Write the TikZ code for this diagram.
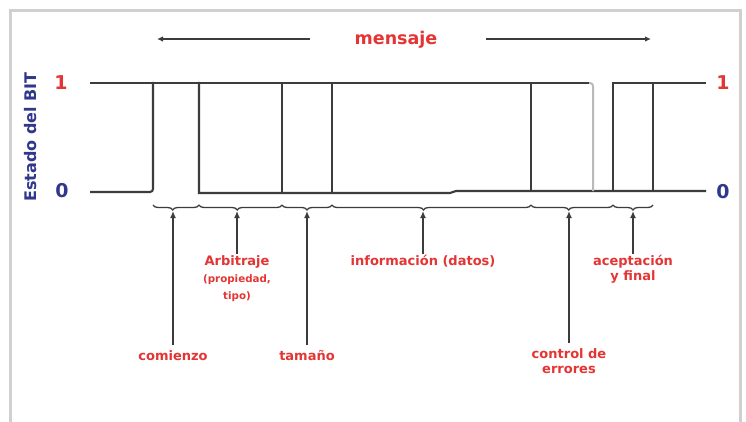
\documentclass[tikz,border=0pt]{standalone}
\usepackage{fontspec}
\setmainfont{DejaVu Sans}
\usetikzlibrary{decorations.pathreplacing,arrows.meta}
\definecolor{lab}{RGB}{228,52,52}
\definecolor{stat}{RGB}{48,56,140}
\definecolor{sig}{RGB}{60,60,60}
\definecolor{sigl}{RGB}{185,185,185}
\definecolor{framec}{RGB}{208,208,208}
\newcommand{\smalllab}{\fontsize{10.3}{12}\selectfont}
\begin{document}
\begin{tikzpicture}[x=1pt,y=-1pt,
  lbl/.style={text=lab,font=\bfseries\fontsize{13}{15}\selectfont,align=center,inner sep=1pt},
  lvl/.style={font=\bfseries\fontsize{19}{20}\selectfont,inner sep=0pt},
  sigline/.style={draw=sig,line width=2.1pt},
  brc/.style={draw=sig,line width=1.3pt,decorate,decoration={brace,mirror,amplitude=5pt,aspect=#1}},
  arr/.style={draw=sig,line width=2pt,-{Latex[length=7pt,width=6pt]}},
  marr/.style={draw=sig,line width=1.8pt,-{Latex[length=6pt,width=5.5pt]}}]
\useasboundingbox (0,0) rectangle (746,422);
\fill[white] (0,0) rectangle (746,422);
\draw[framec,line width=3pt] (10,424) -- (10,11) -- (740,11) -- (740,424);

% title
\node[text=lab,font=\bfseries\fontsize{17.5}{20}\selectfont,inner sep=0pt] (msg) at (396,40) {mensaje};
\coordinate (ml) at (157,39);
\coordinate (mr) at (651,39);
\coordinate (mls) at (310,39);
\coordinate (mrs) at (486,39);
\draw[marr] (mls) -- (ml);
\draw[marr] (mrs) -- (mr);

% axis labels
\node[text=stat,font=\bfseries\fontsize{16}{18}\selectfont,rotate=90,inner sep=0pt] (est) at (31,137) {Estado del BIT};
\node[lvl,text=lab] (l1) at (61,83) {1};
\node[lvl,text=stat] (l0) at (62,191) {0};
\node[lvl,text=lab] (r1) at (723,83) {1};
\node[lvl,text=stat] (r0) at (723,192) {0};

% signal
\draw[sigline] (90,83) -- (591,83);
\draw[sigline] (613,83) -- (706,83);
\draw[sigline,rounded corners=3pt] (90,192) -- (153,192) -- (153,82);
\draw[sigline,line join=miter] (199,82) -- (199,193) -- (450,193) -- (456,191) -- (706,191);
\foreach \x in {282,332,531,653} \draw[sigline] (\x,82) -- (\x,192);
\draw[sigline] (613,82) -- (613,192);
\draw[draw=sigl,line width=2pt,rounded corners=3pt] (589,83) -- (593,83) -- (593,191);

% braces
\coordinate (b0) at (153,205);
\coordinate (b1) at (199,205);
\coordinate (b2) at (282,205);
\coordinate (b3) at (332,205);
\coordinate (b4) at (531,205);
\coordinate (b5) at (613,205);
\coordinate (b6) at (653,205);
\draw[brc=0.43] (b0) -- (b1);
\draw[brc=0.46] (b1) -- (b2);
\draw[brc=0.5] (b2) -- (b3);
\draw[brc=0.46] (b3) -- (b4);
\draw[brc=0.46] (b4) -- (b5);
\draw[brc=0.5] (b5) -- (b6);

\coordinate (t1) at (173,211);
\coordinate (t2) at (237,211);
\coordinate (t3) at (307,211);
\coordinate (t4) at (423,211);
\coordinate (t5) at (569,211);
\coordinate (t6) at (633,211);

% labels
\node[lbl,anchor=north] (com) at (173,349) {comienzo};
\node[lbl,anchor=north] (arb) at (237,254) {Arbitraje\\[2pt]{\smalllab (propiedad,}\\[2pt]{\smalllab tipo)}};
\node[lbl,anchor=north] (tam) at (307,349) {tamaño};
\node[lbl,anchor=north] (inf) at (423,254) {información (datos)};
\node[lbl,anchor=north] (ctl) at (569,347) {control de\\ errores};
\node[lbl,anchor=north] (ace) at (633,254) {aceptación\\ y final};

\draw[arr] (com.north) ++(0,-4) -- (t1);
\draw[arr] (arb.north) -- (t2);
\draw[arr] (tam.north) ++(0,-4) -- (t3);
\draw[arr] (inf.north) -- (t4);
\draw[arr] (ctl.north) ++(0,-4) -- (t5);
\draw[arr] (ace.north) -- (t6);
\end{tikzpicture}
\end{document}
